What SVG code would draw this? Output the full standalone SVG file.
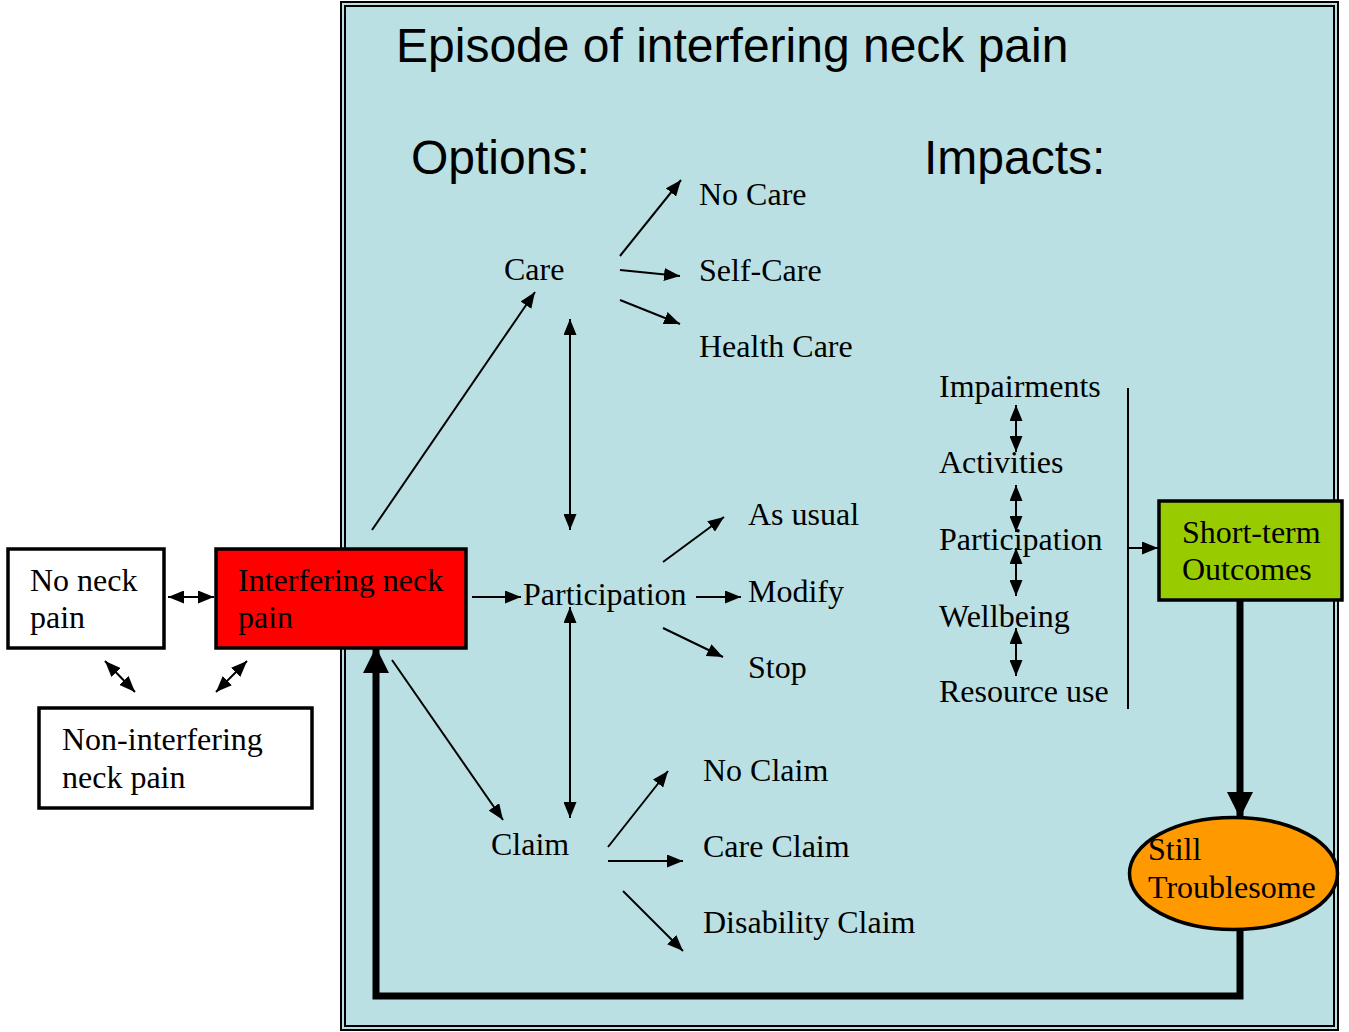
<svg xmlns="http://www.w3.org/2000/svg" width="1349" height="1032" viewBox="0 0 1349 1032">
<defs>
<style>
.s{font-family:"Liberation Serif","Times New Roman",serif;font-size:32px;fill:#000}
.h{font-family:"Liberation Sans",Arial,sans-serif;font-size:48px;fill:#000}
.ln{stroke:#000;stroke-width:2;fill:none}
.box{stroke:#000;stroke-width:3.5}
.thick{stroke:#000;stroke-width:7;fill:none}
</style>
<marker id="a" markerUnits="userSpaceOnUse" markerWidth="16" markerHeight="13" refX="16" refY="6.5" orient="auto-start-reverse"><path d="M0,0 L16,6.5 L0,13 z" fill="#000"/></marker>
<marker id="t" markerUnits="userSpaceOnUse" markerWidth="26" markerHeight="26" refX="26" refY="13" orient="auto-start-reverse"><path d="M0,0 L26,13 L0,26 z" fill="#000"/></marker>
</defs>
<g id="frame">
<rect x="341" y="2" width="997" height="1028" fill="#BAE0E3" stroke="#000" stroke-width="2"/>
<rect x="345" y="6" width="989" height="1020" fill="none" stroke="#000" stroke-width="2"/>
<text class="h" x="396" y="62">Episode of interfering neck pain</text>
<text class="h" x="411" y="174">Options:</text>
<text class="h" x="924" y="174">Impacts:</text>
</g>
<g id="connectors">
<line class="ln" x1="372" y1="530" x2="535" y2="292" marker-end="url(#a)"/>
<line class="ln" x1="620" y1="256" x2="681" y2="180" marker-end="url(#a)"/>
<line class="ln" x1="620" y1="270" x2="680" y2="276" marker-end="url(#a)"/>
<line class="ln" x1="620" y1="300" x2="680" y2="324" marker-end="url(#a)"/>
<line class="ln" x1="570" y1="319" x2="570" y2="530" marker-start="url(#a)" marker-end="url(#a)"/>
<line class="ln" x1="472" y1="597" x2="521" y2="597" marker-end="url(#a)"/>
<line class="ln" x1="570" y1="607" x2="570" y2="818" marker-start="url(#a)" marker-end="url(#a)"/>
<line class="ln" x1="663" y1="562" x2="724" y2="517" marker-end="url(#a)"/>
<line class="ln" x1="696" y1="597" x2="741" y2="597" marker-end="url(#a)"/>
<line class="ln" x1="663" y1="628" x2="723" y2="657" marker-end="url(#a)"/>
<line class="ln" x1="392" y1="660" x2="503" y2="820" marker-end="url(#a)"/>
<line class="ln" x1="608" y1="847" x2="668" y2="771" marker-end="url(#a)"/>
<line class="ln" x1="608" y1="861" x2="683" y2="861" marker-end="url(#a)"/>
<line class="ln" x1="623" y1="891" x2="683" y2="951" marker-end="url(#a)"/>
<line class="ln" x1="168" y1="597" x2="214" y2="597" marker-start="url(#a)" marker-end="url(#a)"/>
<line class="ln" x1="105" y1="661" x2="135" y2="692" marker-start="url(#a)" marker-end="url(#a)"/>
<line class="ln" x1="247" y1="661" x2="216" y2="692" marker-start="url(#a)" marker-end="url(#a)"/>
<line class="ln" x1="1016" y1="405" x2="1016" y2="452" marker-start="url(#a)" marker-end="url(#a)"/>
<line class="ln" x1="1016" y1="485" x2="1016" y2="532" marker-start="url(#a)" marker-end="url(#a)"/>
<line class="ln" x1="1016" y1="548" x2="1016" y2="596" marker-start="url(#a)" marker-end="url(#a)"/>
<line class="ln" x1="1016" y1="628" x2="1016" y2="676" marker-start="url(#a)" marker-end="url(#a)"/>
<line class="ln" x1="1128" y1="388" x2="1128" y2="709"/>
<line class="ln" x1="1128" y1="548" x2="1158" y2="548" marker-end="url(#a)"/>
<line class="thick" x1="1240" y1="600" x2="1240" y2="818" marker-end="url(#t)"/>
<polyline class="thick" points="1240,930 1240,996 376,996 376,647" marker-end="url(#t)"/>
</g>
<g id="care"><text class="s" x="504" y="280">Care</text></g>
<g id="no-care"><text class="s" x="699" y="205">No Care</text></g>
<g id="self-care"><text class="s" x="699" y="281">Self-Care</text></g>
<g id="health-care"><text class="s" x="699" y="357">Health Care</text></g>
<g id="participation"><text class="s" x="523" y="605">Participation</text></g>
<g id="as-usual"><text class="s" x="748" y="525">As usual</text></g>
<g id="modify"><text class="s" x="748" y="602">Modify</text></g>
<g id="stop"><text class="s" x="748" y="678">Stop</text></g>
<g id="claim"><text class="s" x="491" y="855">Claim</text></g>
<g id="no-claim"><text class="s" x="703" y="781">No Claim</text></g>
<g id="care-claim"><text class="s" x="703" y="857">Care Claim</text></g>
<g id="disability-claim"><text class="s" x="703" y="933">Disability Claim</text></g>
<g id="impairments"><text class="s" x="939" y="397">Impairments</text></g>
<g id="activities"><text class="s" x="939" y="473">Activities</text></g>
<g id="participation-impact"><text class="s" x="939" y="550">Participation</text></g>
<g id="wellbeing"><text class="s" x="939" y="627">Wellbeing</text></g>
<g id="resource-use"><text class="s" x="939" y="702">Resource use</text></g>
<g id="no-neck-pain">
<rect class="box" x="8" y="549" width="156" height="99" fill="#fff"/>
<text class="s" x="30" y="591">No neck</text>
<text class="s" x="30" y="628">pain</text>
</g>
<g id="interfering-neck-pain">
<rect class="box" x="216" y="549" width="250" height="99" fill="#FF0000"/>
<text class="s" x="238" y="591">Interfering neck</text>
<text class="s" x="238" y="628">pain</text>
</g>
<g id="non-interfering">
<rect class="box" x="39" y="708" width="273" height="100" fill="#fff"/>
<text class="s" x="62" y="750">Non-interfering</text>
<text class="s" x="62" y="788">neck pain</text>
</g>
<g id="short-term-outcomes">
<rect class="box" x="1159" y="501" width="183" height="99" fill="#99CC00"/>
<text class="s" x="1182" y="543">Short-term</text>
<text class="s" x="1182" y="580">Outcomes</text>
</g>
<g id="still-troublesome">
<ellipse cx="1233.5" cy="873.5" rx="104" ry="56" fill="#FF9900" stroke="#000" stroke-width="3.5"/>
<text class="s" x="1148" y="860">Still</text>
<text class="s" x="1148" y="898">Troublesome</text>
</g>
</svg>
